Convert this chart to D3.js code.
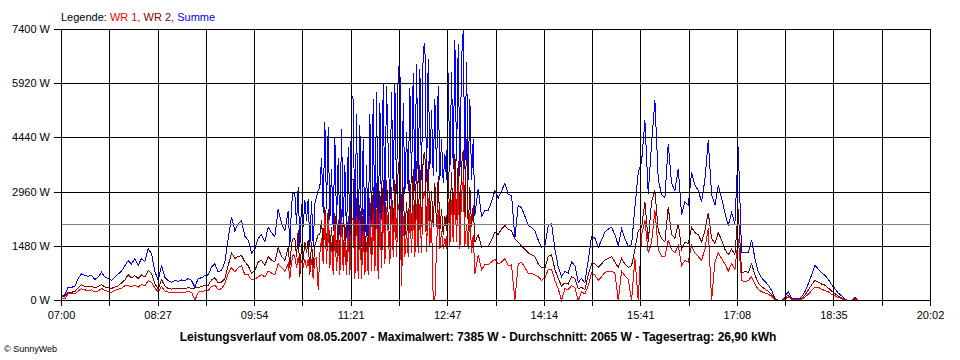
<!DOCTYPE html>
<html><head><meta charset="utf-8">
<script src="https://cdn.jsdelivr.net/npm/d3@7"></script>
<style>
html,body{margin:0;padding:0;background:#fff;}
svg{display:block;font-family:"Liberation Sans",Arial,sans-serif;}
</style></head><body><svg id="c" width="960" height="360"></svg>
<script>
// ---- data ----
const xTickLabels = ["07:00","08:27","09:54","11:21","12:47","14:14","15:41","17:08","18:35","20:02"];
const yTickValues = [0,1480,2960,4440,5920,7400];
const yTickLabels = ["0 W","1480 W","2960 W","4440 W","5920 W","7400 W"];
const spanMinutes = 782;      // 07:00 .. 20:02
// sampling schedule: [start minute after 07:00, step in minutes, number of samples]
const sampleSchedule = [[0,3,68],[204,1.5,113],[375,3,115]];
const averageW = 2065;
const titleText = "Leistungsverlauf vom 08.05.2007 - Maximalwert: 7385 W - Durchschnitt: 2065 W - Tagesertrag: 26,90 kWh";
const creditText = "\u00A9 SunnyWeb";
const seriesNames = ["WR 1","WR 2","Summe"];

const summe = [
// 07:00 - 10:21 (3 min)
140,150,363,363,380,600,730,680,660,690,
570,640,773,640,600,546,640,720,800,950,
1092,1000,1150,960,1147,1050,1411,1275,800,546,
956,637,546,500,546,520,560,546,600,546,
363,600,620,680,700,910,1000,780,820,1050,
1700,2275,1900,2100,2185,1750,1650,1300,1400,1700,
1800,1600,2000,1850,1750,2500,2100,1900,
// 10:24 - 13:12 (1.5 min)
2450,1500,2600,2960,2900,2094,3095,1480,2640,2000,
2730,2185,2777,1480,2730,1480,2640,2820,3004,3095,
3900,2400,4870,2500,4735,2200,3600,1900,4460,2100,
3900,1800,4690,2000,3700,1700,4200,1600,5600,5500,
1600,5100,1400,4800,1500,4400,1700,3700,1500,5100,
2000,5500,1800,5700,1500,5400,2200,5920,2400,5850,
4100,2500,5700,3000,5920,2900,6330,6500,1200,5400,
2900,4600,3000,5800,3200,6200,3000,6460,3200,6330,
3300,6900,7020,3230,6600,3600,5200,3400,5500,3500,
5870,3300,4400,3200,4000,3300,6200,3500,6250,3600,
7100,3800,7000,3400,6600,7385,3600,6500,3300,5500,
3300,4400,2320,
// 13:15 - 18:57 (3 min)
3050,2300,2460,2460,2700,
3000,2800,3000,3200,2900,2870,1685,2600,2530,2300,
2050,2000,1900,1650,1450,1500,2050,2100,1400,920,
650,800,750,1050,950,500,600,480,1100,1750,
1700,1450,1650,1866,1950,2000,1800,1500,1950,1680,
1480,1520,2550,3500,3780,4916,2900,4280,5462,3300,
2900,2800,4280,3200,3000,3600,2350,2700,2600,3500,
3150,3000,2700,3300,4370,2900,2600,3150,2800,2400,
2050,2400,2100,4190,1300,1300,1300,1650,1150,780,
620,520,420,280,60,0,0,100,250,70,
45,45,100,240,450,700,956,860,760,690,
580,430,320,200,130,30,0,0,90,0];

const wr2 = [
100,110,228,228,240,350,430,390,380,390,
340,380,437,370,350,330,370,400,480,560,
700,620,680,600,700,640,819,740,460,320,
570,400,330,310,330,320,340,330,350,330,
340,360,380,410,420,560,620,480,500,600,
950,1300,1150,1200,1230,1050,950,740,820,1050,
1100,950,1200,1100,1050,1450,1200,1100,
1450,900,1550,1700,1700,1200,1912,640,1550,1100,
1600,1300,1650,700,1600,900,1500,1650,1800,1800,
2200,1400,2550,1500,2500,1300,2000,1200,2400,1300,
2200,1100,2500,1200,2100,1000,2300,900,3330,3300,
1000,2800,800,2600,900,2500,1000,2100,800,2800,
1200,3100,1000,3200,900,3000,1300,3300,1400,3300,
2300,1500,3100,1800,3300,1700,3700,3870,800,3100,
1700,2700,1800,3300,1900,3600,1800,3820,1900,3700,
2000,3950,4040,1900,3800,2100,3000,2000,3200,2000,
3400,1900,2500,1800,2300,1900,3500,2000,3500,2000,
4000,2200,3800,2000,3700,4100,2100,4400,1900,3100,
2000,2600,1590,
1800,1460,1480,1480,1650,
1866,1800,1950,2048,1950,1900,1680,1600,1480,1400,
1300,1250,1200,1000,900,880,1200,1250,850,600,
400,480,450,640,600,320,360,300,700,1000,
1000,900,1000,1100,1150,1200,1050,900,1150,1000,
900,950,1400,1900,2000,2700,1600,2700,3000,1900,
1700,1600,2550,1800,1700,2100,1400,1600,1550,2000,
1850,1800,1600,1900,2400,1700,1550,1850,1650,1400,
1250,1400,1250,2500,740,800,760,1000,700,480,
380,310,250,160,40,0,0,60,150,40,
30,30,60,150,280,430,546,500,450,420,
340,260,190,120,80,20,0,0,55,0];

const wr1 = [
40,50,180,180,180,260,320,290,273,290,
230,260,330,270,250,220,270,310,330,400,
400,370,420,360,440,400,546,500,340,240,
380,260,228,210,228,210,228,228,240,228,
0,228,240,270,280,380,420,300,320,460,
750,900,780,900,950,700,700,560,580,650,
700,650,800,750,700,1000,900,800,
1000,600,1050,1260,1200,900,1180,840,1090,900,
1130,885,1127,780,1130,580,1140,1170,300,1295,
1700,1000,2320,1000,2235,900,1600,700,2060,800,
1700,700,2190,800,1600,700,1900,700,2270,2200,
600,2300,600,2200,600,1900,700,1600,700,2300,
800,2400,800,2500,600,2400,900,2620,1000,2550,
1800,1000,2600,1200,2620,1200,2630,2630,400,2300,
1200,1900,1200,2500,1300,2600,1200,2640,1300,2630,
1300,2950,2980,1330,2800,1500,2200,0,0,1500,
2470,1400,1900,1400,1700,1400,2700,1500,2750,1600,
3100,1600,3200,1400,2900,3285,1500,2100,1400,2400,
1300,1800,730,
1250,840,980,980,1050,
1134,1000,1050,1150,950,970,0,1000,1050,900,
750,750,700,650,550,620,850,850,550,320,
0,320,300,410,350,0,240,180,400,750,
700,550,650,770,800,800,750,0,800,680,
580,0,1150,0,1780,2200,1300,1580,2460,1400,
1200,1200,1640,1400,1300,1500,950,1100,1050,1500,
1300,1200,1100,1400,1970,0,1050,1300,1150,1000,
800,1000,850,1690,546,520,540,650,450,300,
240,210,170,120,20,0,0,40,100,30,
15,15,40,90,170,270,364,360,310,270,
240,170,130,80,50,10,0,0,35,0];

// ---- chart ----
const times = sampleSchedule.flatMap(([s,st,n]) => d3.range(n).map(k => s + k*st));
if (times.length !== summe.length || wr1.length !== summe.length || wr2.length !== summe.length)
  throw new Error("length mismatch " + times.length + " " + summe.length + " " + wr1.length + " " + wr2.length);

const colors = {wr1:"#ff0000", wr2:"#800000", summe:"#0000ff"};
const svg = d3.select("#c");
const x = d3.scaleLinear().domain([0, spanMinutes]).range([61, 930]);
const y = d3.scaleLinear().domain([0, 7400]).range([300, 29]);
const gridMinutes = d3.range(19).map(k => k*spanMinutes/18);

svg.append("rect").attr("width",960).attr("height",360).attr("fill","#fff");

// legend
const leg = svg.append("text").attr("x",61).attr("y",21).attr("font-size","11px");
leg.append("tspan").attr("fill","#000").text("Legende: ");
leg.append("tspan").attr("fill",colors.wr1).text(seriesNames[0]+", ");
leg.append("tspan").attr("fill",colors.wr2).text(seriesNames[1]+", ");
leg.append("tspan").attr("fill",colors.summe).text(seriesNames[2]);

// series
const line = d3.line().x((d,i)=>x(times[i])+0.5).y(d=>y(d)+0.5);
[[summe,colors.summe],[wr2,colors.wr2],[wr1,colors.wr1]].forEach(([arr,c])=>{
  svg.append("path").datum(arr).attr("d",line).attr("fill","none")
    .attr("stroke",c).attr("stroke-width",1).attr("shape-rendering","crispEdges");
});

// grid
const grid = svg.append("g").attr("stroke","#000").attr("stroke-width",1).attr("shape-rendering","crispEdges");
grid.selectAll("line.v").data(gridMinutes).join("line").attr("class","v")
  .attr("x1",d=>Math.round(x(d))+0.5).attr("x2",d=>Math.round(x(d))+0.5)
  .attr("y1",y(7400)).attr("y2",y(0)+1);
grid.selectAll("line.h").data(yTickValues).join("line").attr("class","h")
  .attr("x1",x(0)).attr("x2",x(spanMinutes)+1)
  .attr("y1",d=>y(d)+0.5).attr("y2",d=>y(d)+0.5);

// average line
svg.append("line").attr("x1",x(0)+1).attr("x2",x(spanMinutes))
  .attr("y1",Math.round(y(averageW))+0.5).attr("y2",Math.round(y(averageW))+0.5)
  .attr("stroke","#808080").attr("shape-rendering","crispEdges");

// axes
const yAxis = svg.append("g").attr("transform","translate(61,0)")
  .call(d3.axisLeft(y).tickValues(yTickValues).tickSize(7).tickPadding(4)
    .tickFormat((d,i)=>yTickLabels[i]));
yAxis.select(".domain").remove();
yAxis.selectAll("text").attr("font-size","11px").attr("font-family","Liberation Sans, Arial, sans-serif").attr("fill","#000");
yAxis.selectAll("line").attr("stroke","#000").attr("shape-rendering","crispEdges");

const xAxis = svg.append("g").attr("transform","translate(0,300)")
  .call(d3.axisBottom(x).tickValues(gridMinutes).tickSize(6).tickPadding(5)
    .tickFormat((d,i)=> i%2===0 ? xTickLabels[i/2] : ""));
xAxis.select(".domain").remove();
xAxis.selectAll("text").attr("font-size","11px").attr("font-family","Liberation Sans, Arial, sans-serif").attr("fill","#000");
xAxis.selectAll("line").attr("stroke","#000").attr("shape-rendering","crispEdges");

// title + credit
svg.append("text").attr("x",478).attr("y",341).attr("text-anchor","middle")
  .attr("font-size","12px").attr("font-weight","bold").attr("fill","#000").text(titleText);
svg.append("text").attr("x",4).attr("y",352).attr("font-size","9px").attr("fill","#000").text(creditText);
</script></body></html>
